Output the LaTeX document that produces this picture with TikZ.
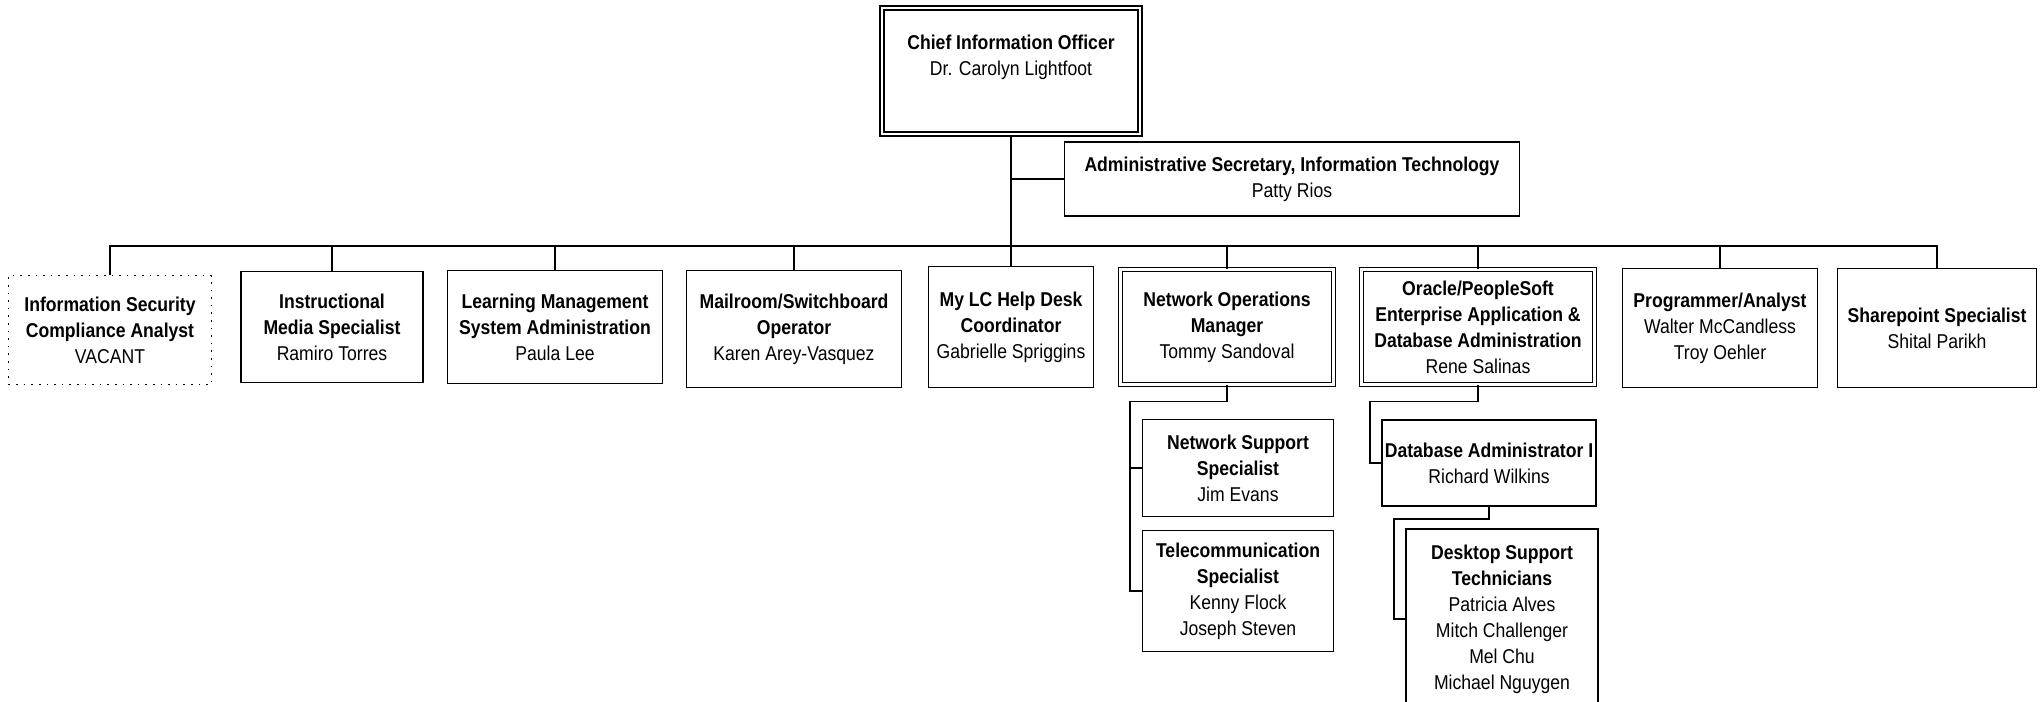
\documentclass[tikz,border=0pt]{standalone}
\usepackage{fontspec}
\setmainfont{Liberation Sans}[FakeStretch=0.88]
\usetikzlibrary{positioning}

\begin{document}
\begin{tikzpicture}[x=1pt,y=-1pt,line width=1.6pt,
                    unit node/.style={draw,line width=1.6pt,align=center,inner sep=0pt,
                                      font=\fontsize{20}{26}\selectfont},
                    head node/.style={unit node,double,double distance=2.5pt},
                    vacant node/.style={unit node,dash pattern=on 1.6pt off 6pt}]
  \useasboundingbox (0,0) rectangle (2041,701);

  % top
  \node[head node, minimum width=258pt, minimum height=126pt, text depth=32pt] (cio) at (1011,71)
       {\textbf{Chief Information Officer}\\Dr. Carolyn Lightfoot};
  \node[unit node, minimum width=455pt, minimum height=74pt] (admin) at (1292,179)
       {\textbf{Administrative Secretary, Information Technology}\\Patty Rios};

  % first row
  \node[vacant node, minimum width=203pt, minimum height=109pt] (sec) at (110,330)
       {\textbf{Information Security}\\\textbf{Compliance Analyst}\\VACANT};
  \node[unit node, minimum width=182pt, minimum height=111pt] (media) at (332,327)
       {\textbf{Instructional}\\\textbf{Media Specialist}\\Ramiro Torres};
  \node[unit node, minimum width=215pt, minimum height=113pt] (lms) at (555,327)
       {\textbf{Learning Management}\\\textbf{System Administration}\\Paula Lee};
  \node[unit node, minimum width=215pt, minimum height=117pt] (mail) at (794,329)
       {\textbf{Mailroom/Switchboard}\\\textbf{Operator}\\Karen Arey-Vasquez};
  \node[unit node, minimum width=165pt, minimum height=121pt] (help) at (1011,327)
       {\textbf{My LC Help Desk}\\\textbf{Coordinator}\\Gabrielle Spriggins};
  \node[head node, minimum width=213pt, minimum height=115pt] (netops) at (1227,327)
       {\textbf{Network Operations}\\\textbf{Manager}\\Tommy Sandoval};
  \node[head node, minimum width=233pt, minimum height=115pt] (oracle) at (1478,327)
       {\textbf{Oracle/PeopleSoft}\\\textbf{Enterprise Application \&}\\\textbf{Database Administration}\\Rene Salinas};
  \node[unit node, minimum width=195pt, minimum height=119pt] (prog) at (1720,328)
       {\textbf{Programmer/Analyst}\\Walter McCandless\\Troy Oehler};
  \node[unit node, minimum width=199pt, minimum height=119pt] (share) at (1937,328)
       {\textbf{Sharepoint Specialist}\\Shital Parikh};

  % second row
  \node[unit node, minimum width=191pt, minimum height=97pt] (nss) at (1238,468)
       {\textbf{Network Support}\\\textbf{Specialist}\\Jim Evans};
  \node[unit node, minimum width=191pt, minimum height=121pt] (tele) at (1238,591)
       {\textbf{Telecommunication}\\\textbf{Specialist}\\Kenny Flock\\Joseph Steven};
  \node[unit node, minimum width=214pt, minimum height=86pt] (dba) at (1489,463)
       {\textbf{Database Administrator I}\\Richard Wilkins};
  \node[unit node, minimum width=192pt, minimum height=180pt] (desk) at (1502,619)
       {\textbf{Desktop Support}\\\textbf{Technicians}\\Patricia Alves\\Mitch Challenger\\Mel Chu\\Michael Nguygen};

  % lines
  \coordinate (bus) at (0,246);
  \draw (cio.south) -- (help.north);
  \draw (cio.south |- admin.west) -- (admin.west);
  \draw (sec.north) -- (sec.north |- bus) -| (share.north);
  \foreach \n in {media,lms,mail,netops,oracle,prog}
    \draw (\n.north) -- (\n.north |- bus);

  \draw (netops.south) -- ++(0,16) -| ([xshift=-12pt]tele.west) -- (tele.west);
  \draw ([xshift=-12pt]nss.west) -- (nss.west);
  \draw (oracle.south) -- ++(0,16) -| ([xshift=-11pt]dba.west) -- (dba.west);
  \draw (dba.south) -- ++(0,12) -| ([xshift=-11pt]desk.west) -- (desk.west);
\end{tikzpicture}
\end{document}
